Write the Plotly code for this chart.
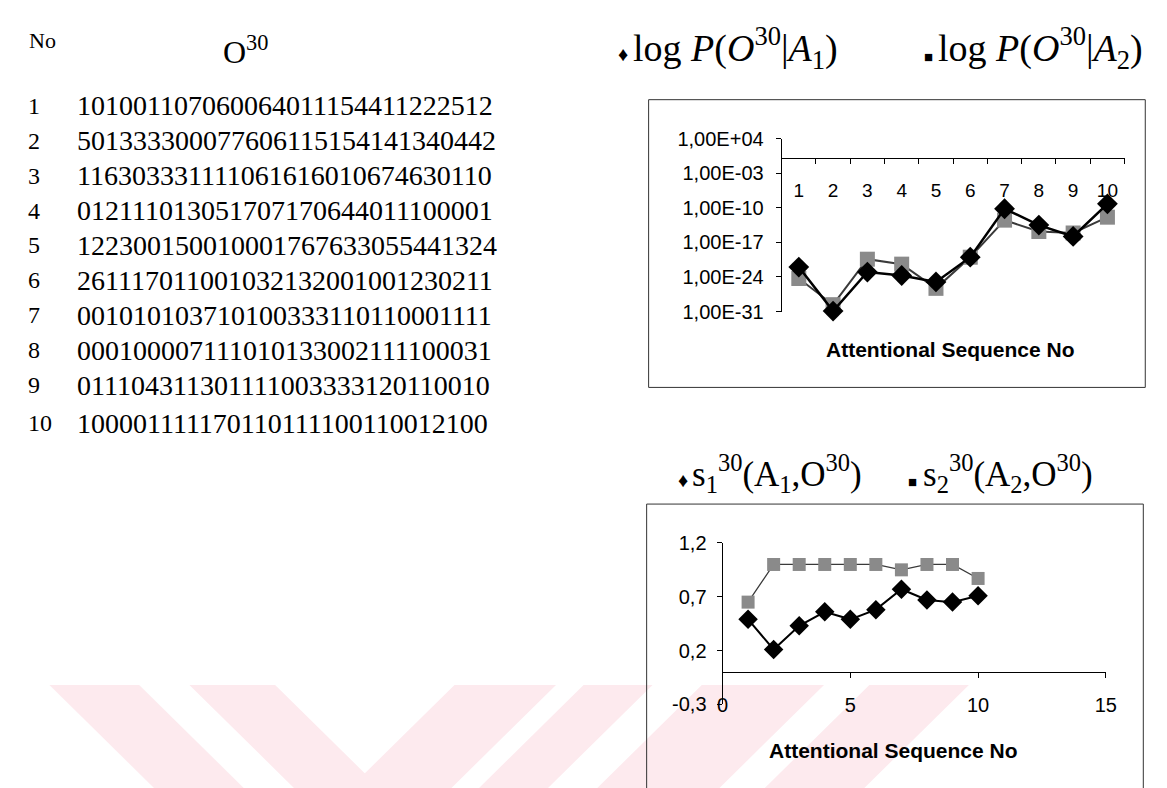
import plotly.graph_objects as go

W, H = 1167, 788

# ---------------- data ----------------
seq_no = [str(i) for i in range(1, 11)]
sequences = [
    "101001107060064011154411222512",
    "501333300077606115154141340442",
    "116303331111061616010674630110",
    "012111013051707170644011100001",
    "122300150010001767633055441324",
    "261117011001032132001001230211",
    "001010103710100333110110001111",
    "000100007111010133002111100031",
    "011104311301111003333120110010",
    "100001111170110111100110012100",
]
categories = ["1", "2", "3", "4", "5", "6", "7", "8", "9", "10"]
# log10 P(O^30 | A_k)
logP_A1 = [-22.0, -30.9, -23.0, -23.7, -25.0, -20.0, -10.2, -13.5, -15.8, -9.2]
logP_A2 = [-24.3, -29.6, -20.4, -21.4, -26.3, -20.0, -12.5, -14.8, -15.1, -11.9]
top_tickvals_exp = [4, -3, -10, -17, -24, -31]
top_ticktext = ["1,00E+04", "1,00E-03", "1,00E-10", "1,00E-17", "1,00E-24", "1,00E-31"]

seq_index = [1, 2, 3, 4, 5, 6, 7, 8, 9, 10]
s1 = [0.49, 0.21, 0.43, 0.56, 0.49, 0.58, 0.77, 0.67, 0.65, 0.71]
s2 = [0.65, 1.00, 1.00, 1.00, 1.00, 1.00, 0.95, 1.00, 1.00, 0.87]
bot_tickvals = [-0.3, 0.2, 0.7, 1.2]
bot_ticktext = ["-0,3", "0,2", "0,7", "1,2"]
bot_xticks = [0, 5, 10, 15]


def px(x):
    return x / W


def py(y):
    return 1 - y / H


SANS = "Liberation Sans, Arial, sans-serif"
SERIF = "Liberation Serif, Times New Roman, serif"
GREY = "#8a8a8a"

fig = go.Figure()

# top chart traces
fig.add_trace(go.Scatter(
    x=categories, y=[10 ** v for v in logP_A2], mode="lines+markers",
    line=dict(color="#3a3a3a", width=2),
    marker=dict(symbol="square", size=15, color=GREY),
    xaxis="x", yaxis="y", showlegend=False, cliponaxis=False))
fig.add_trace(go.Scatter(
    x=categories, y=[10 ** v for v in logP_A1], mode="lines+markers",
    line=dict(color="black", width=2.5),
    marker=dict(symbol="diamond", size=16, color="black"),
    xaxis="x", yaxis="y", showlegend=False, cliponaxis=False))

# bottom chart traces
fig.add_trace(go.Scatter(
    x=seq_index, y=s2, mode="lines+markers",
    line=dict(color="#3a3a3a", width=1.3),
    marker=dict(symbol="square", size=13, color=GREY),
    xaxis="x2", yaxis="y2", showlegend=False, cliponaxis=False))
fig.add_trace(go.Scatter(
    x=seq_index, y=s1, mode="lines+markers",
    line=dict(color="black", width=2),
    marker=dict(symbol="diamond", size=15, color="black"),
    xaxis="x2", yaxis="y2", showlegend=False, cliponaxis=False))

# ---- axes geometry (pixels) ----
top_axis_x0, top_axis_x1 = 779, 1127
top_y_top, top_y_bot = 123, 301
top_xline = top_y_top + (4 - 0) / 35 * (top_y_bot - top_y_top)

bot_x0, bot_x1 = 719, 1108
bot_y_top, bot_y_bot = 539, 705
bot_xline = bot_y_top + 1.2 / 1.5 * (bot_y_bot - bot_y_top)

axis_common = dict(showgrid=False, zeroline=False, showline=True,
                   linecolor="black", linewidth=1, ticks="outside",
                   tickcolor="black", ticklen=5, tickwidth=1)

fig.update_layout(
    width=W, height=H, margin=dict(l=0, r=0, t=0, b=0),
    paper_bgcolor="white", plot_bgcolor="rgba(0,0,0,0)",
    xaxis=dict(domain=[px(top_axis_x0), px(top_axis_x1)], anchor="free",
               position=py(top_xline), type="category", tickson="boundaries",
               range=[-0.5, 9.5], ticklabelstandoff=15,
               tickfont=dict(family=SANS, size=19, color="black"), **axis_common),
    yaxis=dict(domain=[py(top_y_bot), py(top_y_top)], anchor="x", type="log",
               range=[-31, 4], tickvals=[10 ** e for e in top_tickvals_exp],
               ticktext=top_ticktext, ticklabelstandoff=8,
               tickfont=dict(family=SANS, size=20, color="black"), **axis_common),
    xaxis2=dict(domain=[px(bot_x0), px(bot_x1)], anchor="free",
                position=py(bot_xline), range=[0, 15], tickvals=bot_xticks,
                ticklabelstandoff=10,
                tickfont=dict(family=SANS, size=20, color="black"), **axis_common),
    yaxis2=dict(domain=[py(bot_y_bot), py(bot_y_top)], anchor="x2",
                range=[-0.3, 1.2], tickvals=bot_tickvals, ticktext=bot_ticktext,
                ticklabelstandoff=6,
                tickfont=dict(family=SANS, size=20, color="black"), **axis_common),
)

# ---- watermark (pale diagonal bands) ----
PINK = "#fdeaee"
wm_top, wm_bot = 685, 800
dy = wm_bot - wm_top
bands = [  # (left, right) at top edge, direction +1 = down-right, -1 = down-left
    (36, 127, 1), (178, 265, 1), (447, 550, -1),
    (578, 648, -1), (698, 822, -1), (868, 969, -1),
]
shapes = []
for l, r, d in bands:
    path = "M {},{} L {},{} L {},{} L {},{} Z".format(
        px(l), py(wm_top), px(r), py(wm_top),
        px(r + d * dy), py(wm_bot), px(l + d * dy), py(wm_bot))
    shapes.append(dict(type="path", path=path, xref="paper", yref="paper",
                       fillcolor=PINK, line=dict(width=0), layer="below"))

# chart frames
shapes.append(dict(type="rect", xref="paper", yref="paper",
                   x0=px(644), x1=px(1148), y0=py(379), y1=py(83),
                   line=dict(color="#333", width=1), layer="above"))
shapes.append(dict(type="rect", xref="paper", yref="paper",
                   x0=px(642), x1=px(1146), y0=py(800), y1=py(499),
                   line=dict(color="#333", width=1), layer="above"))
fig.update_layout(shapes=shapes)

# ---- text ----
ann = []


def text(x, y, s, size, family=SERIF, anchor="left"):
    ann.append(dict(x=px(x), y=py(y), xref="paper", yref="paper", text=s,
                    showarrow=False, xanchor=anchor, yanchor="middle",
                    font=dict(family=family, size=size, color="black")))


text(13, 22, "No", 22)
text(210, 32, "O<sup>30</sup>", 32)
for i, (n, s) in enumerate(zip(seq_no, sequences)):
    y = 89 + 36 * i + (3 if i == 9 else 0)
    text(12, y, n, 24)
    text(62, y, s, 28)

# legends (top chart)
text(611, 36, "♦", 20, family=SANS)
text(626, 30, "log <i>P</i>(<i>O</i><sup>30</sup>|<i>A</i><sub>1</sub>)", 38)
text(921, 39, "■", 15, family=SANS)
text(936, 30, "log <i>P</i>(<i>O</i><sup>30</sup>|<i>A</i><sub>2</sub>)", 38)

# legends (bottom chart)
text(672, 474, "♦", 20, family=SANS)
text(686, 468, "s<sub>1</sub><sup>30</sup>(A<sub>1</sub>,O<sup>30</sup>)", 35)
text(905, 476, "■", 15, family=SANS)
text(920, 468, "s<sub>2</sub><sup>30</sup>(A<sub>2</sub>,O<sup>30</sup>)", 35)

# axis titles
text(950, 340, "<b>Attentional Sequence No</b>", 21, family=SANS, anchor="center")
text(893, 753, "<b>Attentional Sequence No</b>", 21, family=SANS, anchor="center")

fig.update_layout(annotations=ann)
fig.write_html("out.html")
